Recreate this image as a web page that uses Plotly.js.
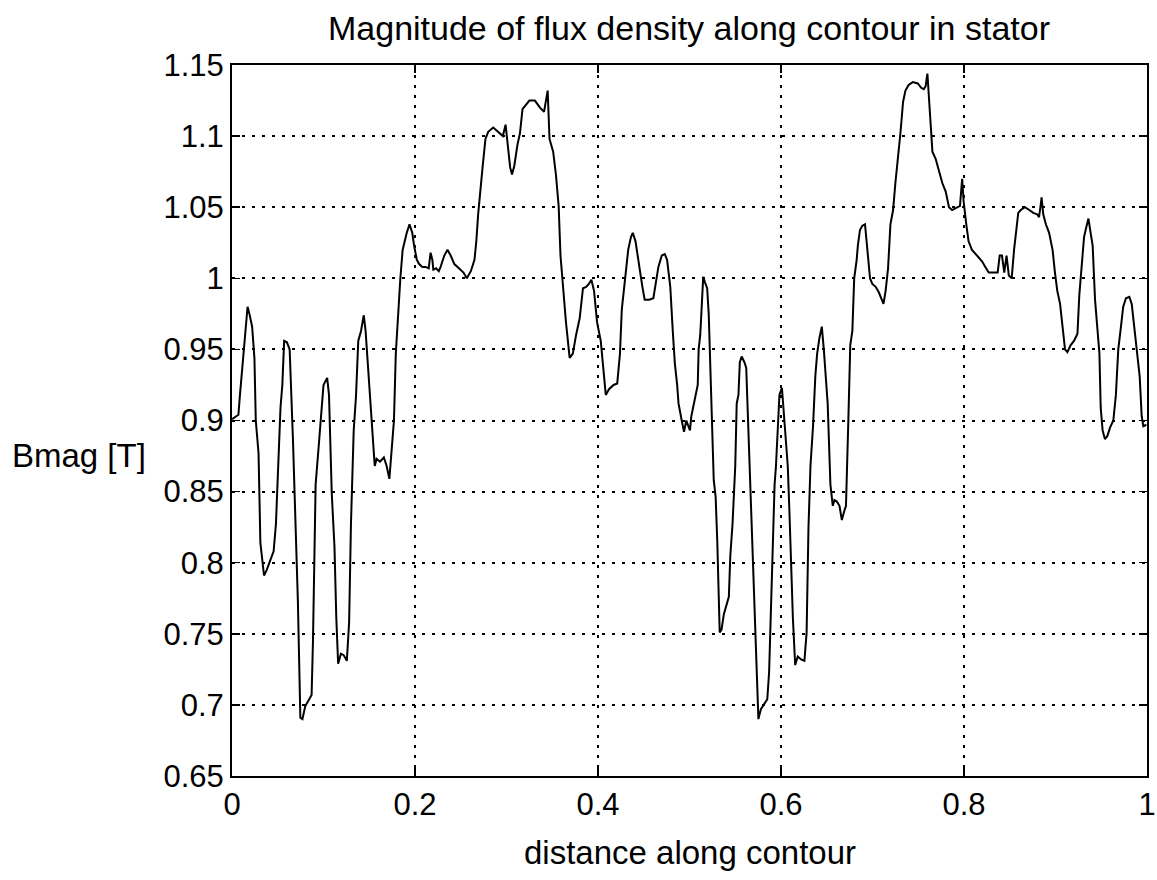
<!DOCTYPE html>
<html>
<head>
<meta charset="utf-8">
<script src="https://cdn.plot.ly/plotly-3.0.1.min.js"></script>
<style>html,body{margin:0;padding:0;background:#fff;}#chart{width:1157px;height:880px;}</style>
</head>
<body>
<div id="chart"></div>
<script>
const chartTitle = "Magnitude of flux density along contour in stator";
const xTitle = "distance along contour";
const yTitle = "Bmag [T]";
const xTickVals = [0, 0.2, 0.4, 0.6, 0.8, 1];
const xTickText = ["0", "0.2", "0.4", "0.6", "0.8", "1"];
const yTickVals = [0.65, 0.7, 0.75, 0.8, 0.85, 0.9, 0.95, 1, 1.05, 1.1, 1.15];
const yTickText = ["0.65", "0.7", "0.75", "0.8", "0.85", "0.9", "0.95", "1", "1.05", "1.1", "1.15"];

const distance = [
0, 0.007, 0.0087, 0.011, 0.0135, 0.0157, 0.017, 0.019, 0.022, 0.0245, 0.026, 0.029, 0.031, 0.035, 0.038, 0.042, 0.0455, 0.048, 0.0506, 0.053, 0.055, 0.057, 0.06, 0.063, 0.0666, 0.0696, 0.072, 0.0747, 0.077, 0.080, 0.0845, 0.087, 0.0885, 0.0914, 0.095, 0.098, 0.100, 0.104, 0.106, 0.109, 0.112, 0.114, 0.116, 0.119, 0.122, 0.1255, 0.128, 0.130, 0.133, 0.1355, 0.138, 0.141, 0.144, 0.146, 0.149, 0.152, 0.154, 0.156, 0.158,
0.1617, 0.166, 0.169, 0.172, 0.174, 0.177, 0.179, 0.182, 0.184, 0.1865, 0.189, 0.191, 0.194, 0.197, 0.199, 0.202, 0.2045, 0.208, 0.2115, 0.215, 0.217, 0.219, 0.220, 0.223, 0.226, 0.228, 0.232, 0.2355, 0.239, 0.243, 0.248, 0.253, 0.2566, 0.261, 0.265, 0.267, 0.269, 0.2715, 0.274, 0.277, 0.280, 0.2855, 0.291, 0.296, 0.299, 0.302, 0.304, 0.306, 0.3085, 0.312, 0.3147, 0.3175, 0.321, 0.325,
0.331, 0.3366, 0.341, 0.345, 0.347, 0.351, 0.354, 0.357, 0.359, 0.3617, 0.365, 0.369, 0.3725, 0.376, 0.380, 0.3836, 0.387, 0.390, 0.3928, 0.3957, 0.399, 0.403, 0.406, 0.4085, 0.412, 0.417, 0.421, 0.424, 0.426, 0.430, 0.433, 0.436, 0.438, 0.441, 0.445, 0.4485, 0.451, 0.456, 0.4605, 0.463, 0.466, 0.4697, 0.473, 0.4755, 0.479, 0.4817, 0.484, 0.4865, 0.488, 0.4915, 0.494, 0.4965,
0.5005, 0.502, 0.5045, 0.507, 0.509, 0.510, 0.5117, 0.5135, 0.515, 0.517, 0.5193, 0.521, 0.523, 0.5245, 0.5265, 0.5286, 0.5304, 0.533, 0.535, 0.5376, 0.540, 0.543, 0.5446, 0.547, 0.550, 0.5516, 0.5535, 0.555, 0.557, 0.56, 0.562, 0.5643, 0.566, 0.568, 0.570, 0.5716, 0.5735, 0.5753, 0.578, 0.5815, 0.585, 0.587, 0.589, 0.591, 0.593, 0.5945, 0.5965, 0.5983, 0.601, 0.6036, 0.6055, 0.6074, 0.6092, 0.611, 0.613, 0.6155, 0.6183, 0.622, 0.6256, 0.628, 0.630, 0.6322, 0.635, 0.6375, 0.6395, 0.642, 0.6446, 0.6468, 0.6493, 0.651, 0.654, 0.6566, 0.6584, 0.661, 0.6639, 0.6665, 0.669,
0.671, 0.6736, 0.6757, 0.678, 0.680, 0.6827, 0.684, 0.6863, 0.6889, 0.6918, 0.6943, 0.6973, 0.6998, 0.7035, 0.707, 0.7097, 0.712, 0.7143, 0.717, 0.7196, 0.7225, 0.725, 0.7278, 0.7305, 0.7334, 0.736, 0.7395, 0.744, 0.7495, 0.7532, 0.756, 0.758, 0.760, 0.762, 0.7636, 0.7655, 0.769, 0.7727, 0.7763, 0.78, 0.7836, 0.787, 0.792, 0.7956, 0.798, 0.7996, 0.8025, 0.805, 0.8087, 0.814, 0.8197, 0.8233, 0.827, 0.8317, 0.8368, 0.839,
0.8415, 0.844, 0.8465, 0.849, 0.8521, 0.8547, 0.857, 0.8593, 0.862, 0.8666, 0.8713, 0.8757, 0.88, 0.882, 0.8837, 0.8848, 0.8866, 0.8895, 0.893, 0.8968, 0.8994, 0.902, 0.905, 0.9078, 0.9104, 0.913, 0.9166, 0.9202, 0.924, 0.926, 0.9286, 0.9312, 0.9333, 0.936, 0.9384, 0.9406, 0.9432, 0.9457, 0.948, 0.9494, 0.9515, 0.954, 0.9566, 0.9596, 0.9632, 0.966, 0.9686, 0.971, 0.974, 0.977, 0.9807, 0.9833, 0.986, 0.989, 0.992, 0.9942, 0.996, 0.9993
];

const bmag = [
0.901, 0.904, 0.918, 0.937, 0.956, 0.972, 0.980, 0.975, 0.966, 0.944, 0.900, 0.877, 0.814, 0.791, 0.795, 0.802, 0.808, 0.827, 0.868, 0.909, 0.925, 0.956, 0.955, 0.950, 0.887, 0.821, 0.773, 0.691, 0.690, 0.699, 0.704, 0.707, 0.745, 0.855, 0.884, 0.912, 0.925, 0.930, 0.918, 0.849, 0.811, 0.761, 0.729, 0.736, 0.735, 0.731, 0.758, 0.827, 0.893, 0.917, 0.956, 0.963, 0.974, 0.963, 0.934, 0.909, 0.890, 0.868, 0.873,
0.871, 0.874, 0.868, 0.859, 0.874, 0.900, 0.947, 0.985, 1.000, 1.020, 1.027, 1.032, 1.038, 1.032, 1.023, 1.013, 1.010, 1.008, 1.008, 1.007, 1.018, 1.013, 1.006, 1.007, 1.005, 1.008, 1.016, 1.020, 1.016, 1.010, 1.007, 1.004, 1.000, 1.005, 1.013, 1.026, 1.045, 1.064, 1.079, 1.098, 1.103, 1.106, 1.103, 1.100, 1.108, 1.092, 1.078, 1.073, 1.079, 1.094, 1.102, 1.119, 1.122, 1.125,
1.125, 1.120, 1.117, 1.132, 1.098, 1.089, 1.073, 1.051, 1.016, 0.994, 0.969, 0.944, 0.947, 0.960, 0.972, 0.993, 0.994, 0.996, 0.999, 0.991, 0.969, 0.956, 0.937, 0.918, 0.922, 0.925, 0.926, 0.947, 0.978, 1.000, 1.020, 1.029, 1.032, 1.026, 1.007, 0.994, 0.985, 0.985, 0.986, 0.997, 1.008, 1.016, 1.017, 1.013, 0.994, 0.963, 0.940, 0.925, 0.912, 0.900, 0.892, 0.900,
0.893, 0.903, 0.911, 0.918, 0.925, 0.950, 0.960, 0.982, 1.001, 0.997, 0.993, 0.975, 0.937, 0.903, 0.858, 0.846, 0.814, 0.751, 0.753, 0.764, 0.770, 0.776, 0.805, 0.827, 0.868, 0.912, 0.918, 0.941, 0.945, 0.941, 0.937, 0.893, 0.868, 0.821, 0.783, 0.751, 0.710, 0.690, 0.697, 0.701, 0.704, 0.723, 0.773, 0.824, 0.855, 0.868, 0.900, 0.918, 0.923, 0.903, 0.887, 0.868, 0.836, 0.795, 0.761, 0.728, 0.734, 0.732, 0.731, 0.751, 0.824, 0.868, 0.896, 0.931, 0.947, 0.958, 0.966, 0.950, 0.931, 0.912, 0.855, 0.840, 0.844, 0.843, 0.840, 0.830, 0.836,
0.840, 0.900, 0.953, 0.963, 1.000, 1.013, 1.023, 1.034, 1.037, 1.038, 1.020, 1.000, 0.996, 0.994, 0.990, 0.985, 0.982, 0.991, 1.007, 1.038, 1.048, 1.067, 1.083, 1.102, 1.124, 1.132, 1.136, 1.138, 1.137, 1.134, 1.133, 1.135, 1.144, 1.124, 1.105, 1.089, 1.084, 1.076, 1.067, 1.061, 1.050, 1.048, 1.050, 1.051, 1.070, 1.054, 1.038, 1.026, 1.020, 1.016, 1.012, 1.008, 1.004, 1.004, 1.004, 1.016,
1.016, 1.004, 1.016, 1.002, 1.000, 1.020, 1.035, 1.046, 1.048, 1.050, 1.048, 1.046, 1.045, 1.043, 1.051, 1.057, 1.045, 1.038, 1.032, 1.020, 1.004, 0.991, 0.982, 0.966, 0.950, 0.948, 0.953, 0.956, 0.961, 0.988, 1.010, 1.029, 1.035, 1.042, 1.032, 1.023, 0.985, 0.963, 0.947, 0.909, 0.893, 0.887, 0.889, 0.895, 0.900, 0.918, 0.950, 0.963, 0.980, 0.986, 0.987, 0.982, 0.966, 0.947, 0.931, 0.903, 0.896, 0.897
];

const fontFam = "Liberation Sans, Arial, sans-serif";

const trace = {
  x: distance,
  y: bmag,
  type: "scatter",
  mode: "lines",
  line: {color: "#000", width: 2},
  hoverinfo: "skip"
};

const axisCommon = {
  showline: true,
  linecolor: "#000",
  linewidth: 2,
  mirror: "ticks",
  ticks: "inside",
  ticklen: 8,
  tickwidth: 1.5,
  tickcolor: "#000",
  showgrid: true,
  gridcolor: "#000",
  gridwidth: 2,
  griddash: "3px,7px",
  zeroline: false,
  tickfont: {family: fontFam, size: 31, color: "#000"}
};

const layout = {
  width: 1157,
  height: 880,
  paper_bgcolor: "#fff",
  plot_bgcolor: "#fff",
  margin: {l: 232, r: 10, t: 65, b: 104},
  showlegend: false,
  title: {
    text: chartTitle,
    font: {family: fontFam, size: 34, color: "#000"},
    x: 0.5955, xref: "container", xanchor: "center",
    y: 0.968, yref: "container", yanchor: "middle"
  },
  xaxis: Object.assign({}, axisCommon, {
    range: [0, 1],
    tickvals: xTickVals,
    ticktext: xTickText,
    ticklabelstandoff: 0
  }),
  yaxis: Object.assign({}, axisCommon, {
    range: [0.65, 1.15],
    tickvals: yTickVals,
    ticktext: yTickText
  }),
  annotations: [{
    text: yTitle,
    xref: "paper", yref: "paper",
    x: 0, y: 0.451,
    xanchor: "right", yanchor: "middle",
    xshift: -84,
    showarrow: false,
    font: {family: fontFam, size: 33, color: "#000"}
  }, {
    text: xTitle,
    xref: "paper", yref: "paper",
    x: 0.5, y: -0.108,
    xanchor: "center", yanchor: "middle",
    showarrow: false,
    font: {family: fontFam, size: 33, color: "#000"}
  }]
};

Plotly.newPlot("chart", [trace], layout, {displayModeBar: false, staticPlot: true});
</script>
</body>
</html>
